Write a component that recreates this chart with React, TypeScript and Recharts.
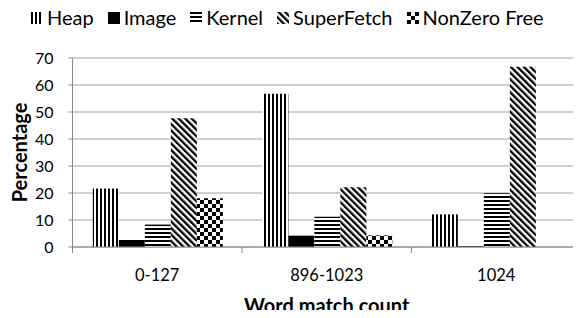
import React from "react";
import { BarChart, Bar, XAxis, YAxis, CartesianGrid } from "recharts";

const categories = ["0-127", "896-1023", "1024"];
const heap = [21.7, 56.8, 12.1];
const image = [2.6, 4.2, 0.3];
const kernel = [8.3, 11.2, 19.9];
const superFetch = [47.7, 22.1, 66.8];
const nonZeroFree = [18.1, 4.3, 0];
const yTicks = [0, 10, 20, 30, 40, 50, 60, 70];

const series = [
  { key: "heap", name: "Heap", fill: "url(#pHeap)" },
  { key: "image", name: "Image", fill: "#000" },
  { key: "kernel", name: "Kernel", fill: "url(#pKernel)" },
  { key: "superFetch", name: "SuperFetch", fill: "url(#pSuper)" },
  { key: "nonZeroFree", name: "NonZero Free", fill: "url(#pNonZero)" },
];

const data = categories.map((c, i) => ({
  name: c,
  heap: heap[i],
  image: image[i],
  kernel: kernel[i],
  superFetch: superFetch[i],
  nonZeroFree: nonZeroFree[i],
}));

const FONT = "Lato, 'Open Sans', sans-serif";

// patterns live in their own svg, ids are global so the chart can use them
const Patterns = () => (
  <svg width={0} height={0} style={{ position: "absolute" }}>
    <defs>
      <pattern id="pHeap" patternUnits="userSpaceOnUse" width={4} height={4}>
        <rect width={4} height={4} fill="#fff" />
        <rect width={2} height={4} fill="#000" />
      </pattern>
      <pattern id="pKernel" patternUnits="userSpaceOnUse" width={4} height={4}>
        <rect width={4} height={4} fill="#fff" />
        <rect width={4} height={2} fill="#000" />
      </pattern>
      <pattern
        id="pSuper"
        patternUnits="userSpaceOnUse"
        width={4.6}
        height={4.6}
        patternTransform="rotate(-45)"
      >
        <rect width={4.6} height={4.6} fill="#fff" />
        <rect width={2.3} height={4.6} fill="#000" />
      </pattern>
      <pattern id="pNonZero" patternUnits="userSpaceOnUse" width={8} height={8}>
        <rect width={8} height={8} fill="#fff" />
        <rect width={4} height={4} fill="#000" />
        <rect x={4} y={4} width={4} height={4} fill="#000" />
      </pattern>
    </defs>
  </svg>
);

const LegendBox = () => (
  <div
    style={{
      position: "absolute",
      top: -3,
      left: 23,
      display: "flex",
      alignItems: "center",
      fontFamily: FONT,
      fontSize: 20,
      lineHeight: "24px",
      color: "#000",
      whiteSpace: "nowrap",
    }}
  >
    {series.map((s) => (
      <div key={s.key} style={{ display: "flex", alignItems: "center", marginRight: 14 }}>
        <svg width={12} height={12} style={{ marginRight: 4, marginTop: 2 }}>
          <rect width={12} height={12} fill={s.fill} />
        </svg>
        <span>{s.name}</span>
      </div>
    ))}
  </div>
);

// label in the middle of the band, tick mark on the band's left edge
const XTick = (props: any) => {
  const { x, y, payload } = props;
  const half = payload && payload.offset ? payload.offset : 85;
  return (
    <g>
      <line x1={x - half} y1={y - 8} x2={x - half} y2={y - 2} stroke="#888" />
      <text
        x={x}
        y={y + 26}
        textAnchor="middle"
        fontFamily={FONT}
        fontSize={16.5}
        fill="#000"
      >
        {payload.value}
      </text>
    </g>
  );
};

export default function App() {
  // negative bottom margin eats the body margin so the chart can reach the window edge
  return (
    <div style={{ position: "relative", width: 573, height: 310, marginBottom: -8 }}>
      <Patterns />
      <LegendBox />
      <BarChart
        width={573}
        height={310}
        data={data}
        margin={{ top: 50, right: 0, left: 0, bottom: 39 }}
        barCategoryGap="12%"
        barGap={0}
      >
        <CartesianGrid vertical={false} stroke="#a0a0a0" />
        <XAxis
          dataKey="name"
          tick={<XTick />}
          tickLine={false}
          tickSize={6}
          tickMargin={2}
          axisLine={{ stroke: "#888" }}
          height={32}
          label={{
            value: "Word match count",
            position: "insideBottom",
            offset: -34,
            fontFamily: FONT,
            fontSize: 20,
            fontWeight: 700,
            fill: "#000",
          }}
        />
        <YAxis
          width={64.5}
          domain={[0, 70]}
          ticks={yTicks}
          interval={0}
          tickSize={4}
          tickMargin={15}
          tickLine={{ stroke: "#888" }}
          axisLine={{ stroke: "#888" }}
          tick={{ fontFamily: FONT, fontSize: 16, fill: "#000" }}
          label={{
            value: "Percentage",
            angle: -90,
            position: "insideLeft",
            offset: 11.5,
            style: { textAnchor: "middle" },
            fontFamily: FONT,
            fontSize: 20,
            fontWeight: 700,
            fill: "#000",
          }}
        />
        {series.map((s) => (
          <Bar key={s.key} dataKey={s.key} name={s.name} fill={s.fill} isAnimationActive={false} />
        ))}
      </BarChart>
    </div>
  );
}
